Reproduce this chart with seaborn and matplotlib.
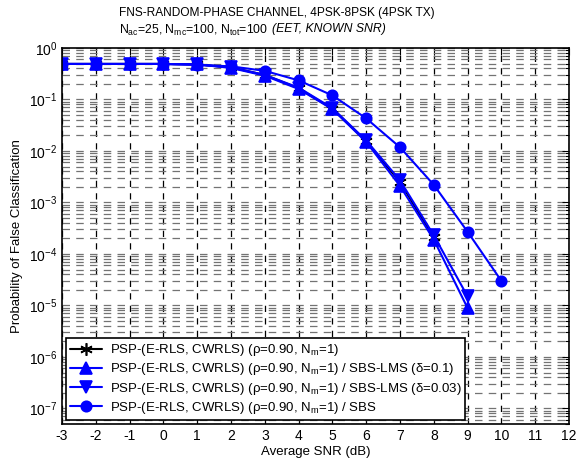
import numpy as np
import pandas as pd
import matplotlib
matplotlib.use("Agg")
import matplotlib.pyplot as plt
import seaborn as sns
from matplotlib.ticker import LogLocator, FixedLocator

sns.set_theme(style="white")
plt.rcParams["font.family"] = ["Liberation Sans", "DejaVu Sans"]
plt.rcParams["mathtext.fontset"] = "custom"
plt.rcParams["mathtext.rm"] = "Liberation Sans"
plt.rcParams["mathtext.it"] = "Liberation Sans:italic"
plt.rcParams["mathtext.default"] = "regular"
plt.rcParams["axes.unicode_minus"] = False
for key in ["text.color", "axes.labelcolor", "xtick.color", "ytick.color"]:
    plt.rcParams[key] = "black"

# Average SNR (dB)
snr_psp = [-3, -2, -1, 0, 1, 2, 3, 4, 5, 6, 7, 8]
snr_lms = [-3, -2, -1, 0, 1, 2, 3, 4, 5, 6, 7, 8, 9]
snr_sbs = [-3, -2, -1, 0, 1, 2, 3, 4, 5, 6, 7, 8, 9, 10]

# Probability of false classification
pfc_psp = [0.49, 0.49, 0.49, 0.49, 0.48, 0.42, 0.30, 0.165, 0.066, 0.0155, 0.0025, 2.1e-4]
pfc_lms_01 = [0.49, 0.49, 0.49, 0.49, 0.48, 0.41, 0.29, 0.16, 0.065, 0.015, 0.0021, 1.9e-4, 8.9e-6]
pfc_lms_003 = [0.49, 0.49, 0.49, 0.49, 0.48, 0.42, 0.30, 0.17, 0.068, 0.016, 0.0027, 2.3e-4, 1.5e-5]
pfc_sbs = [0.49, 0.49, 0.49, 0.49, 0.47, 0.44, 0.36, 0.235, 0.12, 0.043, 0.0118, 0.0022, 2.7e-4, 3.0e-5]

base = r"PSP-(E-RLS, CWRLS) ($\rho$=0.90, N$_m$=1)"
labels = [base,
          base + r" / SBS-LMS ($\delta$=0.1)",
          base + r" / SBS-LMS ($\delta$=0.03)",
          base + " / SBS"]

x_ticks = list(range(-3, 13))

fig = plt.figure(figsize=(5.87, 4.63), dpi=100)
ax = fig.add_axes([62 / 587, 1 - 424 / 463, 507 / 587, 376 / 463])
ax.set_yscale("log")

series = [
    (snr_psp, pfc_psp, labels[0], "black", (6, 2, 0), 9),
    (snr_lms, pfc_lms_01, labels[1], "#0000FF", "^", 8),
    (snr_lms, pfc_lms_003, labels[2], "#0000FF", "v", 8),
    (snr_sbs, pfc_sbs, labels[3], "#0000FF", "o", 7.5),
]
for xs, ys, lab, col, mk, ms in series:
    df = pd.DataFrame({"snr": xs, "pfc": ys})
    sns.lineplot(data=df, x="snr", y="pfc", ax=ax, label=lab, color=col,
                 marker=mk, markersize=ms, linewidth=1.5,
                 markeredgecolor=col, markerfacecolor=col, markeredgewidth=1.2)

ax.set_xlim(-3, 12)
ax.set_ylim(5e-8, 1)
ax.xaxis.set_major_locator(FixedLocator(x_ticks))
ax.yaxis.set_major_locator(LogLocator(base=10, numticks=20))
ax.yaxis.set_minor_locator(LogLocator(base=10, subs=np.arange(2, 10), numticks=20))

ax.grid(True, which="major", axis="x", color="black", linestyle=(0, (5, 5)), linewidth=0.9)
ax.grid(True, which="both", axis="y", color="0.45", linestyle=(0, (6, 5)), linewidth=0.9)
ax.set_axisbelow(True)

ax.tick_params(axis="both", which="both", direction="in", top=True, right=True,
               labelsize=10, colors="black")
ax.tick_params(which="major", length=5, width=0.8)
ax.tick_params(which="minor", length=3, width=0.8)
ax.tick_params(axis="x", which="minor", bottom=False, top=False)
for s in ax.spines.values():
    s.set_color("black")
    s.set_linewidth(1.2)

ax.set_xlabel("Average SNR (dB)", fontsize=9.5, labelpad=2)
ax.set_ylabel("Probability of False Classification", fontsize=9.5, labelpad=4)

leg = ax.legend(loc="lower left", fontsize=9.5, frameon=True, fancybox=False,
                borderaxespad=0.3, handlelength=2.4, labelspacing=0.25,
                borderpad=0.3, handletextpad=0.6)
leg.get_frame().set_edgecolor("black")
leg.get_frame().set_linewidth(1.2)
leg.get_frame().set_alpha(1)

fig.text(119 / 587, 1 - 13 / 463, "FNS-RANDOM-PHASE CHANNEL, 4PSK-8PSK (4PSK TX)",
         ha="left", va="center", fontsize=8.6)
sub_line = fig.text(119 / 587, 1 - 30 / 463,
                    r"N$_{ac}$=25, N$_{mc}$=100, N$_{tot}$=100  ",
                    ha="left", va="center", fontsize=8.8)
fig.canvas.draw()
bb = sub_line.get_window_extent()
fig.text(bb.x1 / fig.bbox.width, 1 - 29 / 463, "(EET, KNOWN SNR)",
         ha="left", va="center", fontsize=8.8, style="italic")

fig.savefig("out.png", dpi=100)
